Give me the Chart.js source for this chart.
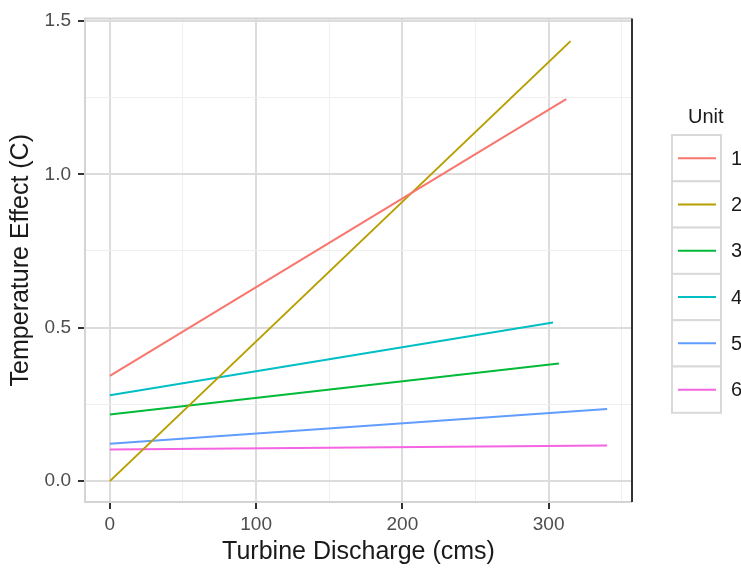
<!DOCTYPE html>
<html>
<head>
<meta charset="utf-8">
<script src="https://cdn.jsdelivr.net/npm/chart.js@4.4.1/dist/chart.umd.min.js"></script>
<style>
  html, body { margin: 0; padding: 0; background: #ffffff; }
  #wrap { width: 741px; height: 569px; }
</style>
</head>
<body>
<div id="wrap"><canvas id="effectChart"></canvas></div>
<script>
// Data: one straight fitted line per unit
const units = ["1", "2", "3", "4", "5", "6"];
const unitColors = ["#F8766D", "#B79F00", "#00BA38", "#00BFC4", "#619CFF", "#F564E3"];
const dischargeStart = [0, 0, 0, 0, 0, 0];
const dischargeEnd = [312, 315, 307, 303, 340, 340];
const effectStart = [0.343, 0.0, 0.217, 0.280, 0.122, 0.103];
const effectEnd = [1.245, 1.434, 0.383, 0.517, 0.235, 0.116];

// grid positions (majors get a label, the rest are minor lines)
const xGrid = [0, 50, 100, 150, 200, 250, 300, 350];
const yGrid = [0, 0.25, 0.5, 0.75, 1.0, 1.25, 1.5];

const FONT = "'Liberation Sans', Arial, sans-serif";

function isMajorX(v) { return v % 100 === 0; }
function isMajorY(v) { return Math.abs(v / 0.5 - Math.round(v / 0.5)) < 1e-6; }

const datasets = units.map(function (u, i) {
    return {
        label: u,
        data: [
            { x: dischargeStart[i], y: effectStart[i] },
            { x: dischargeEnd[i], y: effectEnd[i] }
        ],
        borderColor: unitColors[i],
        backgroundColor: unitColors[i],
        borderWidth: 2,
        pointRadius: 0,
        showLine: true
    };
});

// panel border + ggplot-like legend on the right
const panelAndLegend = {
    id: "panelAndLegend",
    afterDraw(chart) {
        const ctx = chart.ctx;
        const a = chart.chartArea;
        ctx.save();
        ctx.lineWidth = 2;
        ctx.strokeStyle = "#d4d4d4";
        ctx.beginPath();
        ctx.moveTo(a.right, a.top);
        ctx.lineTo(a.left, a.top);
        ctx.lineTo(a.left, a.bottom);
        ctx.lineTo(a.right, a.bottom);
        ctx.stroke();
        ctx.strokeStyle = "#333333";
        ctx.beginPath();
        ctx.moveTo(a.right, a.top);
        ctx.lineTo(a.right, a.bottom);
        ctx.stroke();

        // legend
        ctx.fillStyle = "#1a1a1a";
        ctx.font = "20px " + FONT;
        ctx.textAlign = "left";
        ctx.textBaseline = "alphabetic";
        ctx.fillText("Unit", 688, 123);

        const keyX = 672, keyW = 49, keyH = 46.3, top0 = 135;
        chart.data.datasets.forEach(function (ds, i) {
            const y = top0 + i * keyH;
            ctx.fillStyle = "#ffffff";
            ctx.fillRect(keyX, y, keyW, keyH);
            ctx.strokeStyle = "#d9d9d9";
            ctx.lineWidth = 2;
            ctx.strokeRect(keyX, y, keyW, keyH);
            ctx.strokeStyle = ds.borderColor;
            ctx.lineWidth = 2;
            ctx.beginPath();
            ctx.moveTo(keyX + 6, y + keyH / 2);
            ctx.lineTo(keyX + 44, y + keyH / 2);
            ctx.stroke();
            ctx.fillStyle = "#1a1a1a";
            ctx.textBaseline = "middle";
            ctx.fillText(ds.label, 731, y + keyH / 2 + 1);
        });
        ctx.restore();
    }
};

const config = {
    type: "scatter",
    data: { datasets: datasets },
    options: {
        responsive: true,
        maintainAspectRatio: false,
        animation: false,
        layout: { padding: { top: 16, right: 109, left: 0, bottom: 0 } },
        plugins: {
            legend: { display: false },
            tooltip: { enabled: false }
        },
        scales: {
            x: {
                type: "linear",
                min: -17,
                max: 357,
                afterBuildTicks: function (scale) {
                    scale.ticks = xGrid.map(function (v) { return { value: v }; });
                },
                afterFit: function (scale) { scale.height = 67; },
                border: { display: false },
                grid: {
                    color: function (c) { return isMajorX(c.tick.value) ? "#dcdcdc" : "#efefef"; },
                    lineWidth: function (c) { return isMajorX(c.tick.value) ? 2 : 1; },
                    tickColor: function (c) { return isMajorX(c.tick.value) ? "#333333" : "rgba(0,0,0,0)"; },
                    tickWidth: 2,
                    tickLength: 7
                },
                ticks: {
                    autoSkip: false,
                    maxRotation: 0,
                    padding: 4,
                    color: "#4d4d4d",
                    font: { family: FONT, size: 19 },
                    callback: function (v) { return isMajorX(v) ? String(v) : ""; }
                },
                title: {
                    display: true,
                    text: "Turbine Discharge (cms)",
                    color: "#1a1a1a",
                    font: { family: FONT, size: 25 },
                    padding: { top: 0, bottom: 2 }
                }
            },
            y: {
                type: "linear",
                min: -0.068,
                max: 1.508,
                afterBuildTicks: function (scale) {
                    scale.ticks = yGrid.map(function (v) { return { value: v }; });
                },
                afterFit: function (scale) { scale.width = 85; },
                border: { display: false },
                grid: {
                    color: function (c) { return isMajorY(c.tick.value) ? "#dcdcdc" : "#efefef"; },
                    lineWidth: function (c) { return isMajorY(c.tick.value) ? 2 : 1; },
                    tickColor: function (c) { return isMajorY(c.tick.value) ? "#333333" : "rgba(0,0,0,0)"; },
                    tickWidth: 2,
                    tickLength: 7
                },
                ticks: {
                    autoSkip: false,
                    padding: 7,
                    color: "#4d4d4d",
                    font: { family: FONT, size: 19 },
                    callback: function (v) { return isMajorY(v) ? v.toFixed(1) : ""; }
                },
                title: {
                    display: true,
                    text: "Temperature Effect (C)",
                    color: "#1a1a1a",
                    font: { family: FONT, size: 25 },
                    padding: { top: 6, bottom: 0 }
                }
            }
        }
    },
    plugins: [panelAndLegend]
};

const effectChart = new Chart(document.getElementById("effectChart"), config);
</script>
</body>
</html>
